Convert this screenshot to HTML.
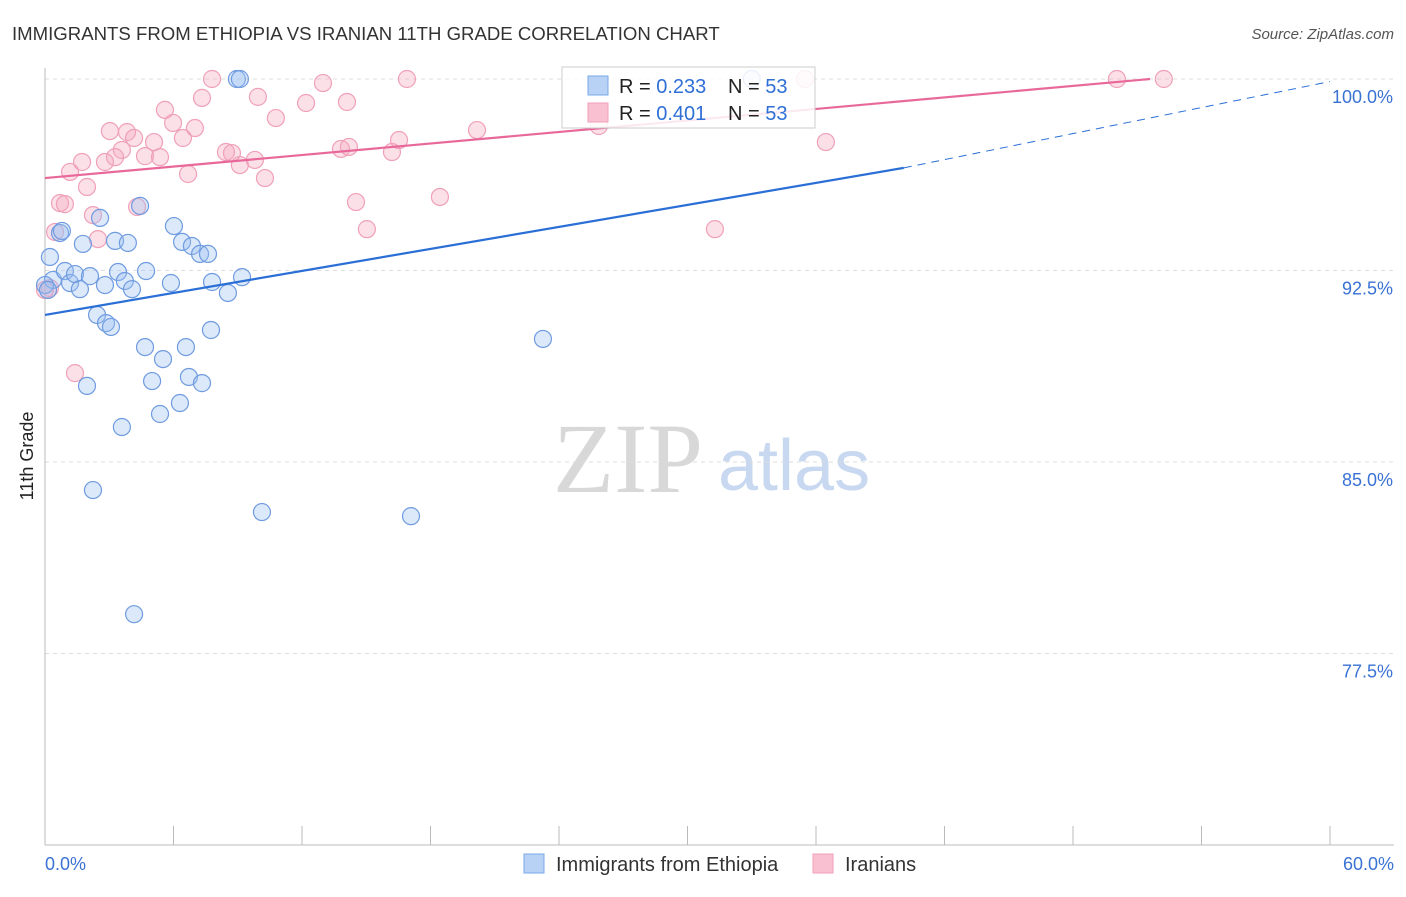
<!DOCTYPE html>
<html><head><meta charset="utf-8">
<style>
body{margin:0;background:#fff;font-family:"Liberation Sans",sans-serif;}
</style></head>
<body>
<svg id="chart" width="1406" height="892" xmlns="http://www.w3.org/2000/svg" font-family="Liberation Sans, sans-serif">
<text x="12" y="40" font-size="18.6" fill="#333">IMMIGRANTS FROM ETHIOPIA VS IRANIAN 11TH GRADE CORRELATION CHART</text>
<text x="1394" y="39" font-size="15" fill="#555" text-anchor="end" font-style="italic">Source: ZipAtlas.com</text>
<text x="0" y="0" font-size="18" fill="#222" transform="translate(33,456) rotate(-90)" text-anchor="middle">11th Grade</text>
<g>
<text x="553" y="492" font-size="100" style="font-family:'Liberation Serif',serif" fill="#d8d8d8">ZIP</text>
<text x="718" y="490" font-size="72" fill="#c8d8f0">atlas</text>
</g>
<g id="grid"></g>
<g id="axes"></g>
<g id="marks"></g>
<g id="lines"></g>
<g>
<rect x="562" y="67" width="253" height="61" fill="#fff" fill-opacity="0.85" stroke="#ccc"/>
<rect x="588" y="76" width="20" height="19" fill="#b8d2f5" stroke="#7aa8e8"/>
<text x="619" y="93" font-size="20" fill="#222">R = <tspan fill="#2f6fd6">0.233</tspan></text>
<text x="728" y="93" font-size="20" fill="#222">N = <tspan fill="#2f6fd6">53</tspan></text>
<rect x="588" y="103" width="20" height="19" fill="#f8c0d0" stroke="#f0a0b8"/>
<text x="619" y="120" font-size="20" fill="#222">R = <tspan fill="#2f6fd6">0.401</tspan></text>
<text x="728" y="120" font-size="20" fill="#222">N = <tspan fill="#2f6fd6">53</tspan></text>
</g>
<g>
<rect x="524" y="854" width="20" height="19" fill="#b8d2f5" stroke="#7aa8e8"/>
<text x="556" y="871" font-size="20" fill="#333">Immigrants from Ethiopia</text>
<rect x="813" y="854" width="20" height="19" fill="#f8c0d0" stroke="#f0a0b8"/>
<text x="845" y="871" font-size="20" fill="#333">Iranians</text>
</g>
</svg>
<script>
const yTicks=[100,92.5,85,77.5];
const yTickLabels=["100.0%","92.5%","85.0%","77.5%"];
const xTicks=[0,6,12,18,24,30,36,42,48,54,60];
const xEdgeLabels=["0.0%","60.0%"];
const ethX=[8.96,9.10,33.0,0.23,0.70,0.79,2.57,4.44,1.77,3.27,3.87,6.02,6.40,6.86,7.24,7.61,0.37,0.93,1.17,1.40,1.63,2.10,2.80,3.41,3.73,4.06,4.72,5.88,7.80,8.54,9.20,2.43,2.85,3.08,4.67,6.58,7.75,5.51,5.00,6.72,7.33,1.96,6.30,5.37,3.59,2.24,10.13,17.09,4.16,23.25,0,0.14];
const ethY=[100,100,100,93.03,93.97,94.05,94.56,95.03,93.54,93.66,93.58,94.24,93.62,93.46,93.15,93.15,92.13,92.48,92.01,92.36,91.77,92.28,91.93,92.44,92.09,91.77,92.48,92.01,92.05,91.62,92.24,90.76,90.44,90.29,89.50,89.50,90.17,89.03,88.17,88.33,88.09,87.98,87.31,86.88,86.37,83.90,83.04,82.88,79.04,89.82,91.93,91.74];
const iraX=[7.80,16.90,12.98,35.48,50.05,52.24,5.60,7.33,9.94,12.19,14.10,10.78,5.98,7.00,3.03,3.83,4.16,5.09,6.44,3.59,3.27,2.80,4.67,5.37,1.73,1.17,1.96,6.68,8.45,8.73,9.10,9.80,10.27,13.82,14.19,16.20,16.53,20.17,25.86,36.46,18.44,14.52,15.03,31.28,0.70,0.93,2.24,4.30,2.47,0.47,0.23,1.40,0];
const iraY=[100,100,99.84,100,100,100,98.79,99.26,99.30,99.06,99.10,98.47,98.28,98.08,97.96,97.92,97.69,97.53,97.69,97.22,96.94,96.75,96.98,96.94,96.75,96.36,95.77,96.28,97.14,97.10,96.63,96.83,96.12,97.26,97.34,97.14,97.61,98.00,98.16,97.53,95.38,95.18,94.12,94.12,95.14,95.10,94.67,94.99,93.73,94.01,91.81,88.48,91.74];
const ethTrend=[[0,90.76],[40.1,96.52],[60,99.9]];
const iraTrend=[[0,96.12],[51.6,100]];

const NS="http://www.w3.org/2000/svg";
const xs=v=>45+v*(1330-45)/60;
const ys=v=>79+(100-v)*(191.5/7.5);
function mk(tag,attrs,parent){const e=document.createElementNS(NS,tag);for(const k in attrs)e.setAttribute(k,attrs[k]);document.getElementById(parent).appendChild(e);return e;}

yTicks.forEach((t,i)=>{
 const g=mk('line',{x1:45,x2:1394,y1:ys(t),y2:ys(t),stroke:'#ddd','stroke-dasharray':'4,4'},'grid');
 
 
 const l=mk('text',{x:1393,y:ys(t)+24,'font-size':18,fill:'#3a72d4','text-anchor':'end'},'axes');
 l.textContent=yTickLabels[i];
 
 
});
const ax=mk('line',{x1:45,x2:45,y1:68,y2:845,stroke:'#bbb'},'axes');


const bx=mk('line',{x1:45,x2:1394,y1:845,y2:845,stroke:'#bbb'},'axes');


xTicks.forEach(t=>{
 const e=mk('line',{x1:xs(t),x2:xs(t),y1:826,y2:845,stroke:'#bbb'},'axes');
 
 
});
[[0,'start',45],[60,'end',1394]].forEach((a,i)=>{
 const e=mk('text',{x:a[2],y:870,'font-size':18,fill:'#3a72d4','text-anchor':a[1]},'axes');
 e.textContent=xEdgeLabels[i];
 
 
});
function pts(X,Y,fill,stroke,name){
 X.forEach((x,i)=>{
  const c=mk('circle',{cx:xs(x),cy:ys(Y[i]),r:8.5,fill:fill,'fill-opacity':0.35,stroke:stroke,'stroke-width':1.2},'marks');
  
  
 });
}
pts(iraX,iraY,'#f4a6be','#f0a0b8','iranians-point');
pts(ethX,ethY,'#9cc0f0','#6f9be0','ethiopia-point');
const b1=mk('line',{x1:xs(ethTrend[0][0]),y1:ys(ethTrend[0][1]),x2:xs(ethTrend[1][0]),y2:ys(ethTrend[1][1]),stroke:'#2a6fd6','stroke-width':2.2},'lines');


const b2=mk('line',{x1:xs(ethTrend[1][0]),y1:ys(ethTrend[1][1]),x2:xs(ethTrend[2][0]),y2:ys(ethTrend[2][1]),stroke:'#2a6fd6','stroke-width':1,'stroke-dasharray':'8,6'},'lines');


const p1=mk('line',{x1:xs(iraTrend[0][0]),y1:ys(iraTrend[0][1]),x2:xs(iraTrend[1][0]),y2:ys(iraTrend[1][1]),stroke:'#e8689a','stroke-width':2.2},'lines');


</script>
</body></html>
